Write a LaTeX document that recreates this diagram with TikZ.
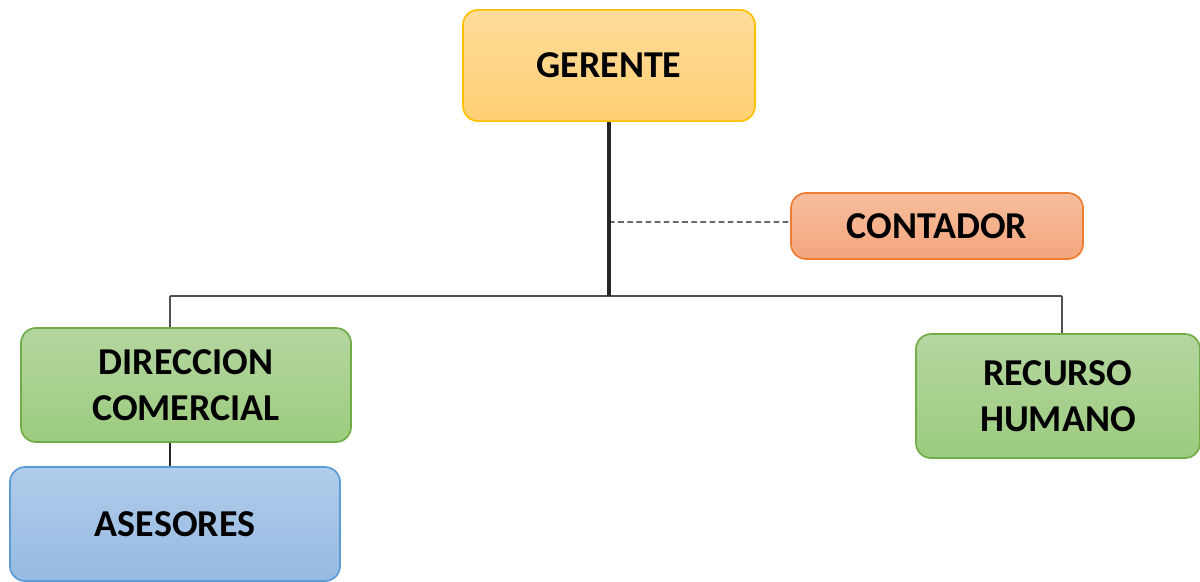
\documentclass[tikz,border=0pt]{standalone}
\usepackage{fontspec}
\setmainfont{Carlito}
\definecolor{goldline}{RGB}{255,192,0}
\definecolor{orangeline}{RGB}{237,125,49}
\definecolor{greenline}{RGB}{112,173,71}
\definecolor{blueline}{RGB}{91,155,213}
\definecolor{busgray}{RGB}{80,80,80}
\tikzset{
  box/.style={draw, line width=1.2pt, rounded corners=0.38cm, align=center,
    font=\fontsize{27}{33}\selectfont\bfseries, inner sep=0pt},
  yellowbox/.style={box, draw=goldline, top color={rgb,255:red,255;green,220;blue,155},
    bottom color={rgb,255:red,255;green,207;blue,115}},
  orangebox/.style={box, draw=orangeline, top color={rgb,255:red,246;green,190;blue,156},
    bottom color={rgb,255:red,244;green,165;blue,125}},
  greenbox/.style={box, draw=greenline, top color={rgb,255:red,180;green,214;blue,160},
    bottom color={rgb,255:red,156;green,203;blue,126}},
  bluebox/.style={box, draw=blueline, top color={rgb,255:red,176;green,204;blue,234},
    bottom color={rgb,255:red,150;green,186;blue,226}}
}
\begin{document}
\begin{tikzpicture}[x=0.025cm, y=-0.025cm]
  \useasboundingbox (0,0) rectangle (1200,581);
  % cajas
  \node[yellowbox, minimum width=7.3cm, minimum height=2.78cm] (Gerente) at (609,65.5) {GERENTE};
  \node[orangebox, minimum width=7.3cm, minimum height=1.65cm] (Contador) at (937,226) {CONTADOR};
  \node[greenbox, minimum width=8.25cm, minimum height=2.85cm] (Direccion) at (186,385) {DIRECCION\\COMERCIAL};
  \node[greenbox, minimum width=7.1cm, minimum height=3.1cm] (Recurso) at (1058,396) {RECURSO\\HUMANO};
  \node[bluebox, minimum width=8.25cm, minimum height=2.85cm] (Asesores) at (175,524) {ASESORES};
  % lineas
  \coordinate (Bus) at (609,296);
  \coordinate (LeftDrop) at (170,296);
  \coordinate (RightDrop) at (1062,296);
  \draw[busgray, line width=1.3pt] (LeftDrop) -- (RightDrop);
  \draw[black!85, line width=2.2pt] (Gerente.south) -- (Bus);
  \draw[busgray, line width=1.1pt] (LeftDrop) -- (LeftDrop |- Direccion.north);
  \draw[busgray, line width=1.1pt] (RightDrop) -- (RightDrop |- Recurso.north);
  \draw[black!85, line width=1.1pt] (Direccion.south -| LeftDrop) -- (Asesores.north -| LeftDrop);
  \draw[black!90, dash pattern=on 4pt off 2.5pt, line width=0.9pt] (Bus |- Contador.west) ++(0,-4) -- ([yshift=0.1cm]Contador.west);
\end{tikzpicture}
\end{document}
